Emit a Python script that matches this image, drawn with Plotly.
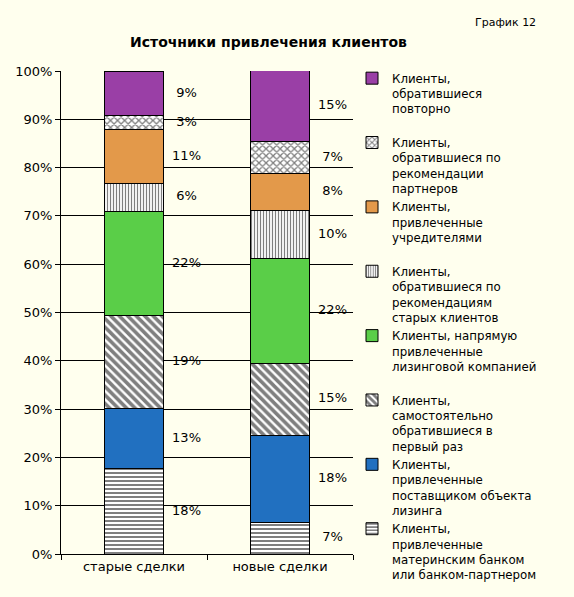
import plotly.graph_objects as go

categories = ["старые сделки", "новые сделки"]

series_names = [
    "Клиенты,<br>привлеченные<br>материнским банком<br>или банком-партнером",
    "Клиенты,<br>привлеченные<br>поставщиком объекта<br>лизинга",
    "Клиенты,<br>самостоятельно<br>обратившиеся в<br>первый раз",
    "Клиенты, напрямую<br>привлеченные<br>лизинговой компанией<br> ",
    "Клиенты,<br>обратившиеся по<br>рекомендациям<br>старых клиентов",
    "Клиенты,<br>привлеченные<br>учредителями<br> ",
    "Клиенты,<br>обратившиеся по<br>рекомендации<br>партнеров",
    "Клиенты,<br>обратившиеся<br>повторно<br> ",
]

old_values = [17.6, 12.6, 19.1, 21.7, 5.8, 11.0, 2.9, 9.3]
new_values = [6.6, 18.0, 14.9, 21.7, 9.9, 7.6, 6.8, 14.6]

y_ticks = [0, 10, 20, 30, 40, 50, 60, 70, 80, 90, 100]

colors = ["white", "#2170C0", "white", "#5ACE48", "white", "#E3994A", "white", "#9A3FA6"]
patterns = [
    dict(shape="-", size=4, solidity=0.5, fgcolor="black", bgcolor="white"),
    None,
    dict(shape="\\", size=6, solidity=0.6, fgcolor="black", bgcolor="white"),
    None,
    dict(shape="|", size=3, solidity=0.4, fgcolor="black", bgcolor="white"),
    None,
    dict(shape="x", size=5, solidity=0.45, fgcolor="black", bgcolor="white"),
    None,
]

fig = go.Figure()
for i, name in enumerate(series_names):
    marker = dict(color=colors[i], line=dict(color="black", width=1))
    if patterns[i] is not None:
        marker["pattern"] = patterns[i]
    fig.add_trace(go.Bar(
        x=categories, y=[old_values[i], new_values[i]], name=name,
        marker=marker, width=0.41, hoverinfo="skip",
    ))

# value labels to the right of each bar
lab_x, lab_y, lab_t = [], [], []
for ci, vals in enumerate([old_values, new_values]):
    cum = 0
    for v in vals:
        lab_x.append(ci + 0.36)
        lab_y.append(cum + v / 2)
        lab_t.append(f"{round(v)}%")
        cum += v
fig.add_trace(go.Scatter(
    x=lab_x, y=lab_y, text=lab_t, mode="text", xaxis="x2",
    textfont=dict(family="DejaVu Sans", size=13, color="black"),
    showlegend=False, hoverinfo="skip",
))

bg = "#FFFFEE"
L, R, T, B = 61, 221, 71, 43
W, H = 574, 597
pw, ph = W - L - R, H - T - B


def px_x(x):
    return (x - L) / pw


def px_y(y):
    return (H - B - y) / ph


fig.update_layout(
    width=W, height=H,
    barmode="stack",
    paper_bgcolor=bg, plot_bgcolor=bg,
    margin=dict(l=L, r=R, t=T, b=B),
    font=dict(family="DejaVu Sans", size=13, color="black"),
    showlegend=True,
    legend=dict(
        x=px_x(352), y=px_y(64), xanchor="left", yanchor="top",
        traceorder="reversed", valign="top", maxheight=560,
        font=dict(family="DejaVu Sans", size=11.8, color="black"),
        bgcolor="rgba(0,0,0,0)", tracegroupgap=0, itemwidth=30,
    ),
    xaxis=dict(
        type="category", range=[-0.5, 1.5], tickson="boundaries",
        ticks="outside", ticklen=5, tickcolor="black",
        showline=True, linecolor="black", linewidth=1,
        showgrid=False, tickfont=dict(size=13),
    ),
    xaxis2=dict(overlaying="x", range=[-0.5, 1.5], visible=False),
    yaxis=dict(
        range=[0, 100], tickmode="array", tickvals=y_ticks,
        ticktext=[f"{v}%" for v in y_ticks],
        ticks="outside", ticklen=5, tickcolor="black",
        showline=True, linecolor="black", linewidth=1,
        showgrid=True, gridcolor="black", gridwidth=1,
        zeroline=False, tickfont=dict(size=13),
    ),
    annotations=[
        dict(text="<b>Источники привлечения клиентов</b>", x=px_x(268), y=px_y(42),
             xref="paper", yref="paper", xanchor="center", yanchor="middle",
             showarrow=False, font=dict(size=14, family="DejaVu Sans")),
        dict(text="График 12", x=px_x(505), y=px_y(22), xref="paper", yref="paper",
             xanchor="center", yanchor="middle",
             showarrow=False, font=dict(size=11, family="DejaVu Sans")),
    ],
)

fig.write_html("out.html", config={"displayModeBar": False},
               post_script="document.body.style.margin='0';")
